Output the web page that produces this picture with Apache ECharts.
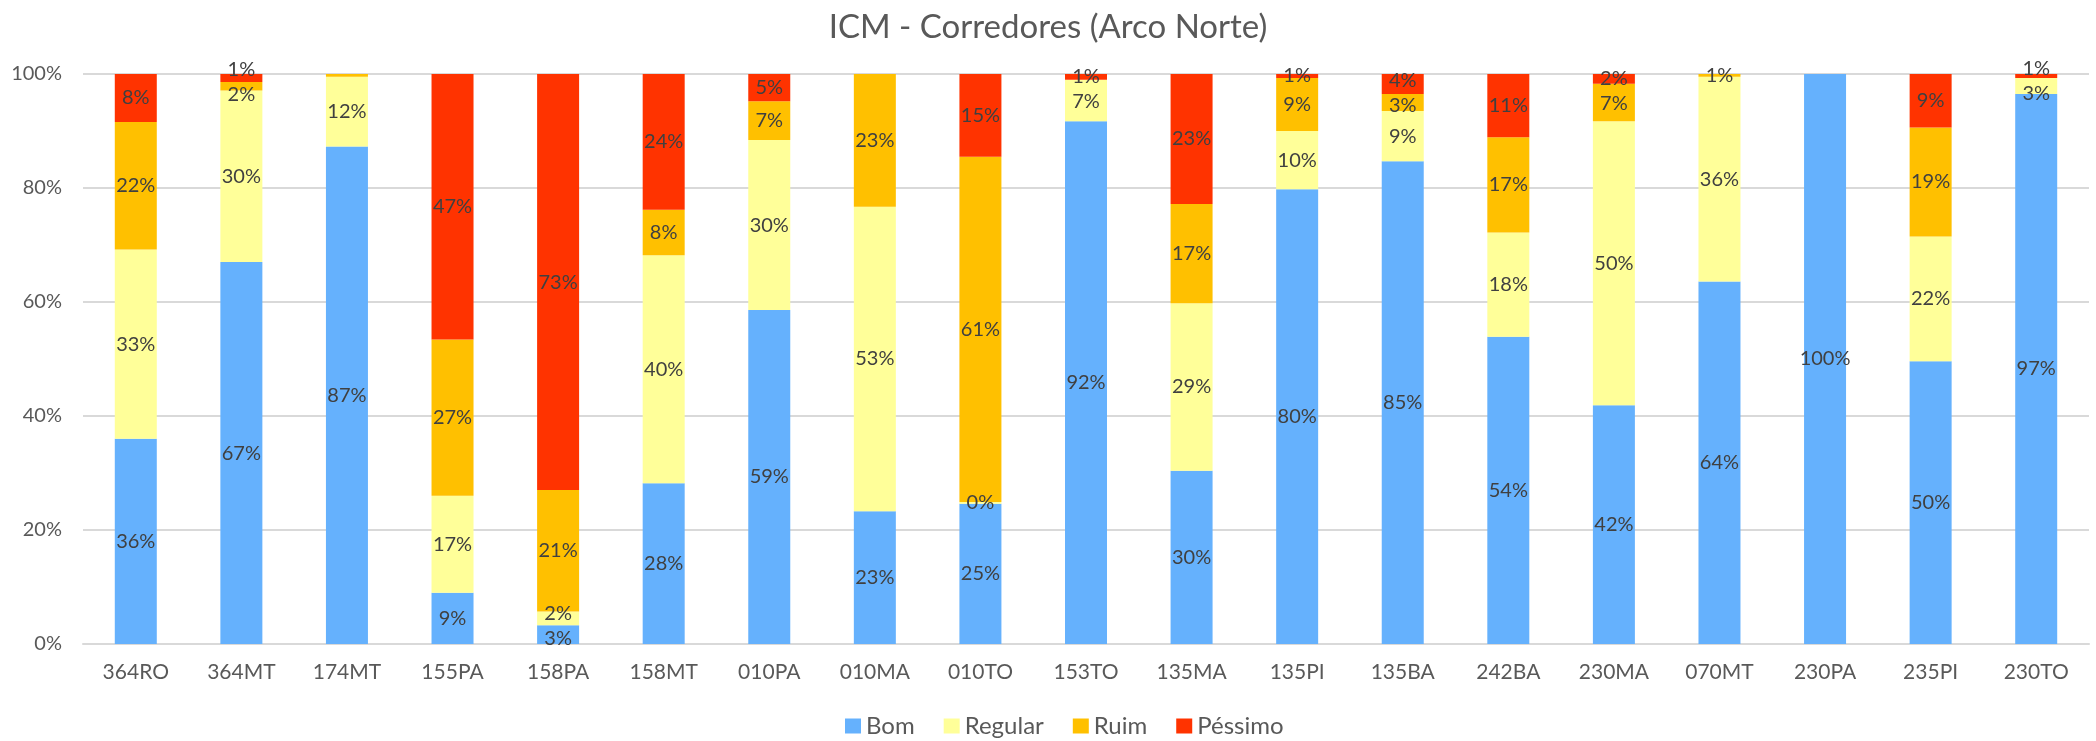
<!DOCTYPE html>
<html>
<head>
<meta charset="utf-8">
<title>ICM - Corredores (Arco Norte)</title>
<script src="https://cdn.jsdelivr.net/npm/echarts@6/dist/echarts.min.js"></script>
<style>
  html, body { margin: 0; padding: 0; background: #fff; }
  #grafico { width: 2096px; height: 741px; }
</style>
</head>
<body>
<div id="grafico"></div>
<script>
// dados (% por corredor)
const categorias = ['364RO', '364MT', '174MT', '155PA', '158PA', '158MT', '010PA', '010MA', '010TO', '153TO',
  '135MA', '135PI', '135BA', '242BA', '230MA', '070MT', '230PA', '235PI', '230TO'];
const bom      = [36.0, 67.0, 87.3,  9.0,  3.3, 28.2, 58.6, 23.3, 24.6, 91.7, 30.4, 79.8, 84.7, 53.9, 41.9, 63.6, 100, 49.6, 96.5];
const regular  = [33.2, 30.1, 12.2, 17.0,  2.4, 40.0, 29.8, 53.4,  0.3,  7.3, 29.4, 10.2,  8.8, 18.3, 49.8, 35.9,   0, 21.9,  2.8];
const ruim     = [22.4,  1.5,  0.5, 27.4, 21.3,  8.0,  6.8, 23.3, 60.6,  0.0, 17.4,  9.3,  3.0, 16.7,  6.6,  0.5,   0, 19.1,  0.0];
const pessimo  = [ 8.4,  1.4,  0.0, 46.6, 73.0, 23.8,  4.8,  0.0, 14.5,  1.0, 22.8,  0.7,  3.5, 11.1,  1.7,  0.0,   0,  9.4,  0.7];
const ticksY = [0, 20, 40, 60, 80, 100];
// rótulos que o gráfico original não mostra
const semRotulo = [['174MT', 'Ruim']];

const series = [
  { nome: 'Bom', dados: bom, cor: '#65B1FD' },
  { nome: 'Regular', dados: regular, cor: '#FFFF99' },
  { nome: 'Ruim', dados: ruim, cor: '#FFC000' },
  { nome: 'Péssimo', dados: pessimo, cor: '#FF3300' }
];

const FONTE = 'Lato, "Open Sans", sans-serif';
const SEP = 25; // distância mínima entre rótulos (px)

function mostraRotulo(i, k) {
  if (series[k].dados[i] <= 0) return false;
  return !semRotulo.some(s => s[0] === categorias[i] && s[1] === series[k].nome);
}

const chart = echarts.init(document.getElementById('grafico'));

// afasta rótulos sobrepostos dentro da mesma coluna
const cacheDy = {};
function calculaDy(i) {
  const itens = [];
  let acum = 0;
  series.forEach((s, k) => {
    const v = s.dados[i];
    if (mostraRotulo(i, k)) {
      const y = chart.convertToPixel({ yAxisIndex: 0 }, acum + v / 2);
      itens.push({ k: k, y0: y, y: y });
    }
    acum += v;
  });
  for (let it = 0; it < 30; it++) {
    for (let j = 0; j + 1 < itens.length; j++) {
      const d = itens[j].y - itens[j + 1].y;
      if (d < SEP) {
        const m = (SEP - d) / 2;
        itens[j].y += m;
        itens[j + 1].y -= m;
      }
    }
  }
  const res = {};
  itens.forEach(o => { res[o.k] = o.y - o.y0; });
  return res;
}

const option = {
  backgroundColor: '#fff',
  animation: false,
  title: {
    text: 'ICM - Corredores (Arco Norte)',
    left: 'center',
    top: 6,
    textStyle: { fontFamily: FONTE, fontSize: 33, fontWeight: 'normal', color: '#595959' }
  },
  legend: {
    left: 840,
    top: 709,
    icon: 'rect',
    itemWidth: 16,
    itemHeight: 15,
    itemGap: 29,
    textStyle: { fontFamily: FONTE, fontSize: 24, color: '#595959' },
    data: series.map(s => s.nome)
  },
  grid: { left: 83, right: 7, top: 74, bottom: 97, containLabel: false },
  xAxis: {
    type: 'category',
    data: categorias,
    axisTick: { show: false },
    axisLine: { lineStyle: { color: '#d9d9d9', width: 2 } },
    axisLabel: { margin: 18, fontFamily: FONTE, fontSize: 21, color: '#595959' }
  },
  yAxis: {
    type: 'value',
    min: ticksY[0],
    max: ticksY[ticksY.length - 1],
    interval: ticksY[1] - ticksY[0],
    axisLine: { show: false },
    axisTick: { show: false },
    splitLine: { lineStyle: { color: '#d9d9d9', width: 2 } },
    axisLabel: { margin: 21, fontFamily: FONTE, fontSize: 20, color: '#595959', formatter: '{value}%' }
  },
  series: series.map((s, k) => ({
    name: s.nome,
    type: 'bar',
    stack: 'total',
    barWidth: 42,
    data: s.dados,
    itemStyle: { color: s.cor },
    label: {
      show: true,
      position: 'inside',
      fontFamily: FONTE,
      fontSize: 20,
      color: '#404040',
      formatter: p => mostraRotulo(p.dataIndex, k) ? Math.round(p.value) + '%' : ''
    },
    labelLayout: function (p) {
      const i = p.dataIndex;
      if (!cacheDy[i]) cacheDy[i] = calculaDy(i);
      return { dy: cacheDy[i][k] || 0 };
    }
  }))
};

chart.setOption(option);
window.addEventListener('resize', () => chart.resize());
</script>
</body>
</html>
